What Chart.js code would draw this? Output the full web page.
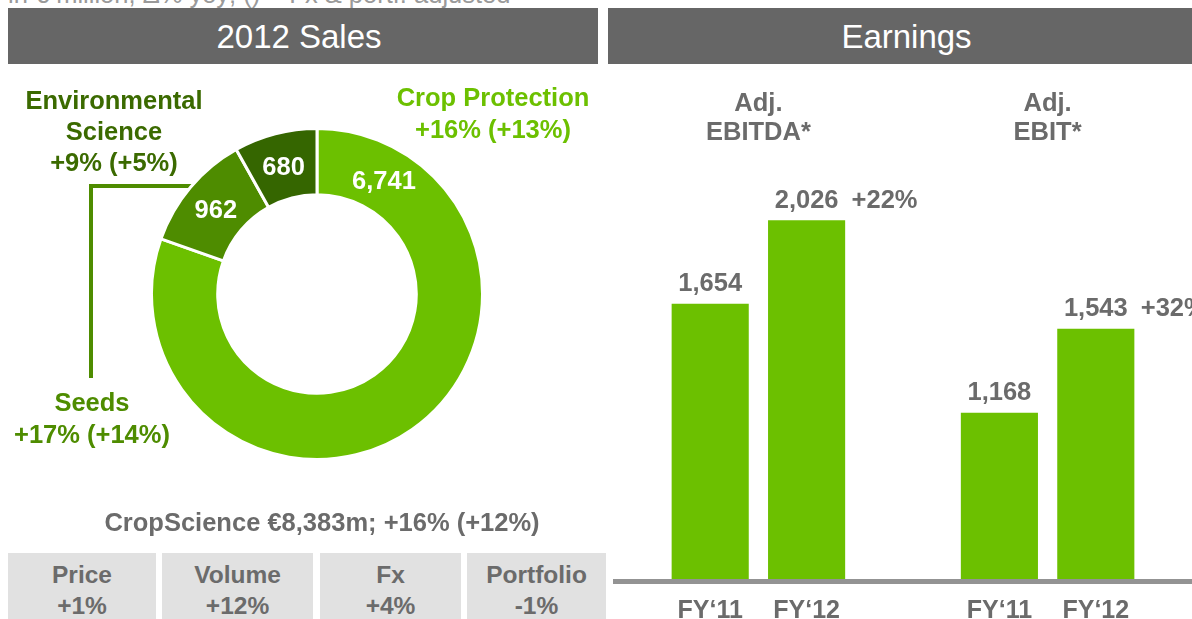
<!DOCTYPE html>
<html>
<head>
<meta charset="utf-8">
<script src="https://cdn.jsdelivr.net/npm/chart.js@4.4.0/dist/chart.umd.min.js"></script>
<style>
  html, body { margin: 0; padding: 0; width: 1192px; height: 619px; overflow: hidden; background: #fff; }
  body { position: relative; font-family: "Liberation Sans", Arial, sans-serif; }
  .hdr { position: absolute; top: 8px; height: 56px; background: #666; color: #fff; font-size: 33px; line-height: 57px; text-align: center; box-sizing: border-box; }
  .lbl { position: absolute; width: 300px; text-align: center; font-weight: bold; font-size: 25.5px; white-space: nowrap; }
  .line { position: absolute; background: #4e8c00; }
  .box { position: absolute; top: 553px; height: 70px; background: #e1e1e1; color: #6b6b6b; font-weight: bold; font-size: 24.5px; line-height: 31px; text-align: center; box-sizing: border-box; padding-top: 6px; }
  canvas { position: absolute; }
</style>
</head>
<body>
<div style="position:absolute;left:8px;top:-18px;font-size:25.5px;line-height:25.5px;color:#9a9a9a;white-space:nowrap">in € million, Δ% yoy; () = Fx &amp; portf. adjusted</div>
<div class="hdr" style="left:8px;width:590px;padding-right:8px">2012 Sales</div>
<div class="hdr" style="left:608px;width:584px;padding-left:13px">Earnings</div>

<div class="line" style="left:89px;top:184px;width:115px;height:4px"></div>
<div class="line" style="left:89px;top:184px;width:4px;height:194px"></div>

<canvas id="pie" width="334" height="334" style="left:150px;top:127px"></canvas>
<canvas id="bars" width="584" height="573" style="left:608px;top:70px"></canvas>

<script>
// data
const segments = ['Crop Protection', 'Seeds', 'Environmental Science'];
const sales2012 = [6741, 962, 680];
const salesGrowth = ['+16% (+13%)', '+17% (+14%)', '+9% (+5%)'];
const totalLine = 'CropScience €8,383m; +16% (+12%)';
const drivers = ['Price', 'Volume', 'Fx', 'Portfolio'];
const driverChange = ['+1%', '+12%', '+4%', '-1%'];

const earningsGroups = [['Adj.', 'EBITDA*'], ['Adj.', 'EBIT*']];
const periods = ['FY\u201811', 'FY\u201812'];
const ebitda = [1654, 2026];
const ebit = [1168, 1543];
const earningsGrowth = ['+22%', '+32%'];

const FONT = '"Liberation Sans", Arial, sans-serif';
const GREY = '#6b6b6b';
const segColors = ['#6cc000', '#4e8c00', '#356600'];
const segTextColors = ['#6cc000', '#4e8c00', '#3b6a00'];

// labels round the doughnut (layout only)
const segLabelPos = [
  { x: 493, top: 81, lh: 32, wrap: false },
  { x: 92, top: 386, lh: 32, wrap: false },
  { x: 114, top: 84.5, lh: 31, wrap: true }
];
segments.forEach((name, i) => {
  const p = segLabelPos[i];
  const d = document.createElement('div');
  d.className = 'lbl';
  d.style.left = (p.x - 150) + 'px';
  d.style.top = p.top + 'px';
  d.style.lineHeight = p.lh + 'px';
  d.style.color = segTextColors[i];
  const lines = (p.wrap ? name.split(' ') : [name]).concat([salesGrowth[i]]);
  d.innerHTML = lines.join('<br>');
  document.body.appendChild(d);
});

const tot = document.createElement('div');
tot.className = 'lbl';
tot.style.cssText = 'left:22px;width:600px;top:508px;line-height:28px;color:' + GREY;
tot.textContent = totalLine;
document.body.appendChild(tot);

const boxLeft = [8, 162, 320, 467];
const boxWidth = [148, 151, 141, 139];
drivers.forEach((name, i) => {
  const b = document.createElement('div');
  b.className = 'box';
  b.style.left = boxLeft[i] + 'px';
  b.style.width = boxWidth[i] + 'px';
  b.innerHTML = name + '<br>' + driverChange[i];
  document.body.appendChild(b);
});

const arcLabels = {
  id: 'arcLabels',
  afterDatasetsDraw(chart) {
    const ctx = chart.ctx;
    ctx.save();
    ctx.font = 'bold 25.5px ' + FONT;
    ctx.fillStyle = '#fff';
    ctx.textAlign = 'center';
    ctx.textBaseline = 'alphabetic';
    chart.getDatasetMeta(0).data.forEach((arc, i) => {
      const p = arc.getProps(['x', 'y', 'startAngle', 'endAngle', 'innerRadius', 'outerRadius']);
      let a = (p.startAngle + p.endAngle) / 2;
      if (p.endAngle - p.startAngle > Math.PI) a = p.startAngle + 0.53;
      const r = (p.innerRadius + p.outerRadius) / 2;
      ctx.fillText(sales2012[i].toLocaleString('en-US'), p.x + r * Math.cos(a), p.y + r * Math.sin(a) + 9);
    });
    ctx.restore();
  }
};

new Chart(document.getElementById('pie').getContext('2d'), {
  type: 'doughnut',
  data: {
    labels: segments,
    datasets: [{
      data: sales2012,
      backgroundColor: segColors,
      borderColor: '#fff',
      borderWidth: 3,
      hoverOffset: 0
    }]
  },
  options: {
    responsive: false,
    animation: false,
    cutout: '60%',
    plugins: { legend: { display: false }, tooltip: { enabled: false } }
  },
  plugins: [arcLabels]
});

// earnings bars
const barLabels = periods.concat([''], periods);
const barValues = ebitda.concat([null], ebit);
const barGrowth = ['', earningsGrowth[0], '', '', earningsGrowth[1]];

const barText = {
  id: 'barText',
  afterDatasetsDraw(chart) {
    const ctx = chart.ctx;
    const bars = chart.getDatasetMeta(0).data;
    ctx.save();
    // axis line across the panel
    ctx.fillStyle = '#939393';
    ctx.fillRect(5, chart.chartArea.bottom, chart.width, 5);

    ctx.font = 'bold 25.5px ' + FONT;
    ctx.fillStyle = GREY;
    ctx.textBaseline = 'alphabetic';
    bars.forEach((bar, i) => {
      if (barValues[i] == null) return;
      ctx.textAlign = 'center';
      ctx.fillText(barValues[i].toLocaleString('en-US'), bar.x, bar.y - 12.5);
      if (barGrowth[i]) {
        ctx.textAlign = 'left';
        ctx.fillText(barGrowth[i], bar.x + 45, bar.y - 12.5);
      }
    });
    ctx.textAlign = 'center';
    earningsGroups.forEach((lines, g) => {
      const x = (bars[g * 3].x + bars[g * 3 + 1].x) / 2;
      lines.forEach((t, k) => ctx.fillText(t, x, 40.5 + k * 29));
    });
    ctx.restore();
  }
};

new Chart(document.getElementById('bars').getContext('2d'), {
  type: 'bar',
  data: {
    labels: barLabels,
    datasets: [{
      data: barValues,
      backgroundColor: '#6cc000',
      barPercentage: 0.8,
      categoryPercentage: 1
    }]
  },
  options: {
    responsive: false,
    animation: false,
    layout: { padding: { left: 54, right: 48, top: 0, bottom: 0 } },
    plugins: { legend: { display: false }, tooltip: { enabled: false } },
    scales: {
      x: {
        grid: { display: false, drawTicks: false },
        border: { display: false },
        ticks: { color: GREY, padding: 17, font: { family: FONT, size: 25, weight: 'bold' } }
      },
      y: { display: false, min: 428, max: 2695 }
    }
  },
  plugins: [barText]
});
</script>
</body>
</html>
